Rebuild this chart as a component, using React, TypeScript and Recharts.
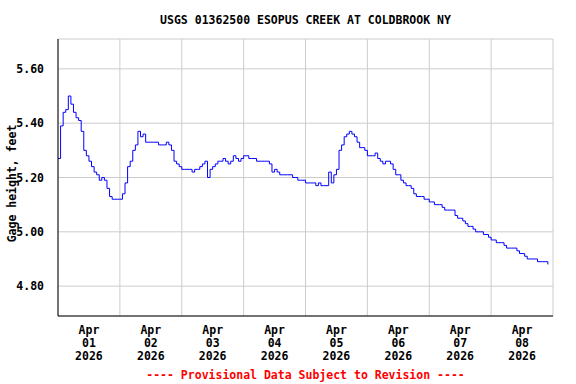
import { LineChart, Line, XAxis, YAxis, CartesianGrid } from 'recharts'

const FONT = '"DejaVu Sans Mono", monospace'
const LINE_BLUE = '#0000FF'
const GRID = '#CCCCCC'

const TITLE = 'USGS 01362500 ESOPUS CREEK AT COLDBROOK NY'
const FOOTER = '---- Provisional Data Subject to Revision ----'
const Y_LABEL = 'Gage height, feet'

// hourly gage height readings (ft), one array per day
const apr01 = [5.27, 5.39, 5.44, 5.45, 5.5, 5.47, 5.44, 5.42, 5.41, 5.37, 5.3, 5.28, 5.26, 5.24, 5.22, 5.21, 5.19, 5.2, 5.19, 5.16, 5.13, 5.12, 5.12, 5.12]
const apr02 = [5.12, 5.14, 5.18, 5.24, 5.26, 5.3, 5.32, 5.37, 5.35, 5.36, 5.33, 5.33, 5.33, 5.33, 5.33, 5.32, 5.32, 5.32, 5.33, 5.32, 5.3, 5.26, 5.25, 5.24]
const apr03 = [5.23, 5.23, 5.23, 5.23, 5.22, 5.23, 5.23, 5.24, 5.25, 5.26, 5.2, 5.23, 5.24, 5.25, 5.26, 5.26, 5.27, 5.26, 5.25, 5.26, 5.28, 5.27, 5.26, 5.27]
const apr04 = [5.28, 5.28, 5.27, 5.27, 5.27, 5.26, 5.26, 5.26, 5.26, 5.26, 5.25, 5.22, 5.23, 5.22, 5.21, 5.21, 5.21, 5.21, 5.21, 5.2, 5.2, 5.19, 5.19, 5.19]
const apr05 = [5.18, 5.18, 5.18, 5.18, 5.17, 5.18, 5.17, 5.17, 5.17, 5.22, 5.18, 5.21, 5.23, 5.3, 5.32, 5.35, 5.36, 5.37, 5.36, 5.35, 5.33, 5.31, 5.31, 5.3]
const apr06 = [5.28, 5.28, 5.28, 5.29, 5.27, 5.26, 5.25, 5.26, 5.26, 5.25, 5.23, 5.21, 5.21, 5.19, 5.18, 5.17, 5.17, 5.16, 5.14, 5.13, 5.13, 5.13, 5.12, 5.12]
const apr07 = [5.11, 5.11, 5.1, 5.1, 5.1, 5.09, 5.08, 5.08, 5.08, 5.08, 5.06, 5.05, 5.05, 5.04, 5.03, 5.02, 5.02, 5.01, 5.0, 5.0, 5.0, 4.99, 4.99, 4.98]
const apr08 = [4.97, 4.97, 4.96, 4.96, 4.96, 4.95, 4.94, 4.94, 4.94, 4.94, 4.93, 4.92, 4.92, 4.91, 4.9, 4.9, 4.9, 4.9, 4.89, 4.89, 4.89, 4.89, 4.88]

const days = [apr01, apr02, apr03, apr04, apr05, apr06, apr07, apr08]
const monthLabel = 'Apr'
const dayLabels = ['01', '02', '03', '04', '05', '06', '07', '08']
const yearLabel = '2026'
const yTicks = [4.8, 5.0, 5.2, 5.4, 5.6]
const yDomain = [4.69, 5.71]

const HOURS = 24
const xDomain = [0, days.length * HOURS]
const labelTicks = dayLabels.map((_, i) => i * HOURS + HOURS / 2)
const dayBounds = dayLabels.slice(1).map((_, i) => (i + 1) * HOURS)

const data = days.flatMap((vals, d) => vals.map((v, h) => ({ t: d * HOURS + h, stage: v })))

function DayTick({ x, y, payload }: any) {
  const i = Math.round((payload.value - HOURS / 2) / HOURS)
  return (
    <g transform={`translate(${x},${y})`}>
      <text textAnchor="middle" fontFamily={FONT} fontWeight="bold" fontSize={11.5} fill="#000">
        <tspan x={0} y={18}>{monthLabel}</tspan>
        <tspan x={0} y={31}>{dayLabels[i]}</tspan>
        <tspan x={0} y={44}>{yearLabel}</tspan>
      </text>
    </g>
  )
}

function YTitle({ viewBox }: any) {
  const cx = 12
  const cy = viewBox.y + viewBox.height / 2 + 6
  return (
    <text
      x={cx}
      y={cy}
      transform={`rotate(-90, ${cx}, ${cy})`}
      textAnchor="middle"
      dominantBaseline="central"
      fontFamily={FONT}
      fontWeight="bold"
      fontSize={11.5}
      fill="#000"
    >
      {Y_LABEL}
    </text>
  )
}

export default function App() {
  return (
    <div style={{ position: 'absolute', left: 0, top: 0, width: 576, height: 384, background: '#fff' }}>
      <div
        style={{
          position: 'absolute',
          left: 58,
          width: 495,
          top: 12,
          textAlign: 'center',
          fontFamily: FONT,
          fontWeight: 'bold',
          fontSize: 11.5,
          lineHeight: '16px',
          color: '#000',
        }}
      >
        {TITLE}
      </div>
      <LineChart width={576} height={384} data={data} margin={{ top: 39, right: 23, bottom: 0, left: 0 }}>
        <CartesianGrid xAxisId="grid" yAxisId="stage" stroke={GRID} strokeWidth={1} />
        <XAxis xAxisId="grid" dataKey="t" type="number" domain={xDomain} ticks={dayBounds} height={0} hide />
        <XAxis
          xAxisId="time"
          dataKey="t"
          type="number"
          domain={xDomain}
          ticks={labelTicks}
          height={68}
          tickLine={false}
          tickSize={0}
          tickMargin={0}
          tick={<DayTick />}
          axisLine={{ stroke: '#000' }}
          interval={0}
        />
        <XAxis
          xAxisId="top"
          orientation="top"
          dataKey="t"
          type="number"
          domain={xDomain}
          height={0}
          tick={false}
          tickLine={false}
          axisLine={{ stroke: '#000' }}
        />
        <YAxis
          yAxisId="stage"
          type="number"
          domain={yDomain}
          ticks={yTicks}
          width={58}
          tickLine={false}
          tickMargin={8}
          axisLine={{ stroke: '#000' }}
          tick={{ fontFamily: FONT, fontWeight: 'bold', fontSize: 11.5, fill: '#000' }}
          tickFormatter={(v: number) => v.toFixed(2)}
          interval={0}
          label={<YTitle />}
        />
        <YAxis
          yAxisId="right"
          orientation="right"
          type="number"
          domain={yDomain}
          width={0}
          tick={false}
          tickLine={false}
          axisLine={{ stroke: '#000' }}
        />
        <Line
          xAxisId="time"
          yAxisId="stage"
          type="stepAfter"
          dataKey="stage"
          stroke={LINE_BLUE}
          strokeWidth={1}
          dot={false}
          isAnimationActive={false}
        />
      </LineChart>
      <div
        style={{
          position: 'absolute',
          left: 58,
          width: 495,
          top: 367,
          textAlign: 'center',
          fontFamily: FONT,
          fontWeight: 'bold',
          fontSize: 11.5,
          lineHeight: '16px',
          color: '#FF0000',
        }}
      >
        {FOOTER}
      </div>
    </div>
  )
}
